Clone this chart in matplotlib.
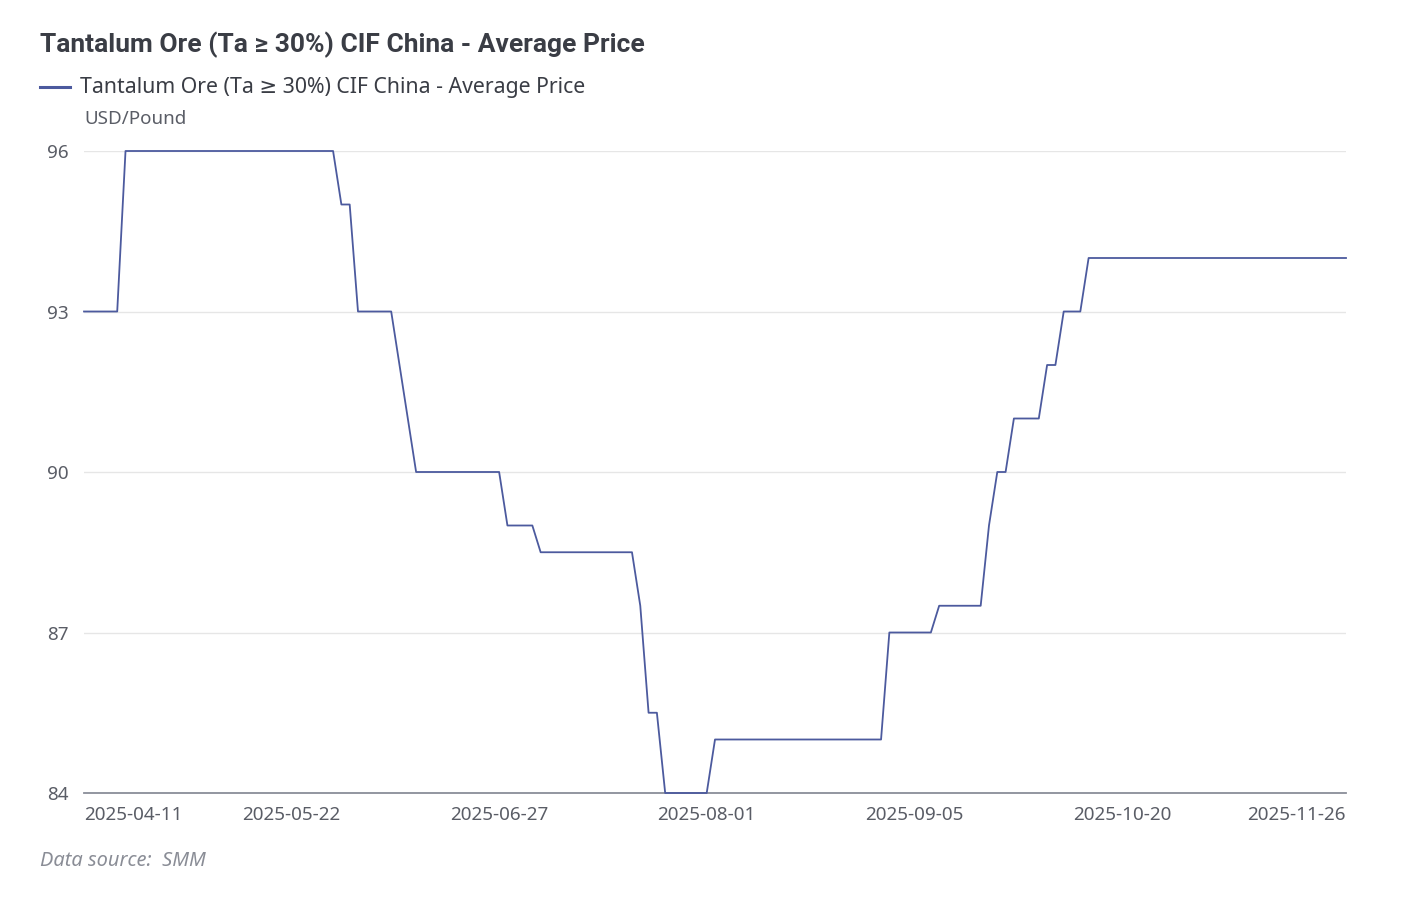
import matplotlib
matplotlib.use("Agg")
import matplotlib.pyplot as plt
import numpy as np

plt.rcParams['font.family'] = ['Noto Sans', 'DejaVu Sans']

# price levels and how many trading days each level holds
levels = [93, 96, 95, 93, 92, 91, 90, 89, 88.5, 87.5, 85.5, 84, 85,
          87, 87.5, 89, 90, 91, 92, 93, 94]
days = [5, 26, 2, 5, 1, 1, 11, 4, 12, 1, 2, 6, 21,
        6, 6, 1, 2, 4, 2, 3, 32]

tick_labels = ['2025-04-11', '2025-05-22', '2025-06-27', '2025-08-01',
               '2025-09-05', '2025-10-20', '2025-11-26']
y_ticks = [84, 87, 90, 93, 96]

series_name = 'Tantalum Ore (Ta \u2265 30%) CIF China - Average Price'

price = np.repeat(levels, days)
x = np.arange(len(price))

line_color = '#4c5a9e'
text_dark = '#3a3d45'
text_grey = '#5a5d66'

fig = plt.figure(figsize=(14.28, 8.97), dpi=100)
ax = fig.add_axes([84 / 1428, 1 - 793 / 897, (1346 - 84) / 1428, (793 - 151) / 897])

ax.plot(x, price, color=line_color, lw=1.3, clip_on=False, zorder=5)

ax.set_xlim(0, len(price) - 1)
ax.set_ylim(84, 96)
ax.set_yticks(y_ticks)
ax.set_yticklabels([str(v) for v in y_ticks])

tick_pos = [i * 25 for i in range(len(tick_labels) - 1)] + [len(price) - 1]
ax.set_xticks(tick_pos)
ax.set_xticklabels(tick_labels)
xt = ax.get_xticklabels()
xt[0].set_ha('left')
xt[-1].set_ha('right')

ax.grid(axis='y', color='#e6e6e6', lw=1)
ax.set_axisbelow(True)
for s in ['top', 'right', 'left']:
    ax.spines[s].set_visible(False)
ax.spines['bottom'].set_color('#8a8e99')
ax.spines['bottom'].set_linewidth(1.3)
ax.spines['bottom'].set_zorder(2)
ax.tick_params(axis='both', length=0, labelsize=13.6, labelcolor=text_grey)
ax.tick_params(axis='y', pad=11)
ax.tick_params(axis='x', pad=9)

# title, legend, unit and source
fig.text(40 / 1428, 1 - 45 / 897, series_name, fontsize=19, fontweight='bold',
         family=['Roboto', 'DejaVu Sans'], color=text_dark, va='center', ha='left')
fig.add_artist(plt.Line2D([40 / 1428, 70 / 1428], [1 - 87 / 897, 1 - 87 / 897],
                          color=line_color, lw=2.2))
fig.text(80 / 1428, 1 - 88 / 897, series_name, fontsize=15.3, color=text_dark,
         va='center', ha='left')
fig.text(84 / 1428, 1 - 119 / 897, 'USD/Pound', fontsize=13.5, color=text_grey,
         va='center', ha='left')
fig.text(40 / 1428, 1 - 861 / 897, 'Data source:  SMM', fontsize=14.4, style='italic',
         color='#8a8d96', va='center', ha='left')

fig.savefig('out.png', dpi=100, facecolor='white')
